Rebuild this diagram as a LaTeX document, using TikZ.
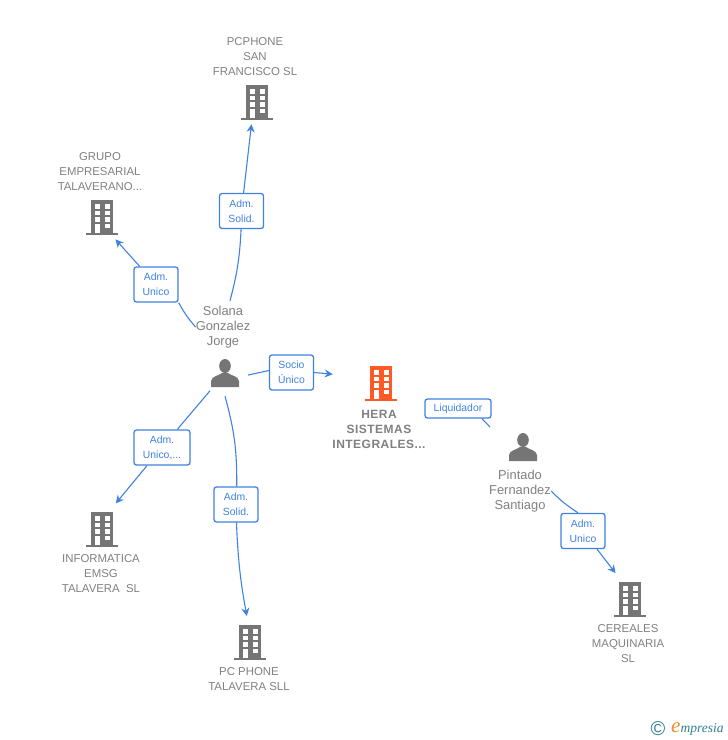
\documentclass[tikz,border=0pt]{standalone}
\usepackage{fontspec}
\usetikzlibrary{arrows.meta}
\setmainfont{Liberation Sans}
\newfontfamily\logofont{Liberation Serif}
\definecolor{bldggray}{HTML}{757575}
\definecolor{heraorange}{HTML}{FF5A26}
\definecolor{textgray}{HTML}{808080}
\definecolor{linkblue}{HTML}{3F82E0}
\definecolor{logoteal}{HTML}{2F7F93}
\definecolor{logoorange}{HTML}{F08A24}
\tikzset{
  pics/bldg/.style = {code = {
    \fill[#1] (-11,-17) rectangle (11,16);
    \fill[#1] (-16,15.5) rectangle (16,17.5);
    \foreach \row in {-13,-6.5,0} {
      \fill[white] (-7.5,\row) rectangle (-2.5,\row+4.5);
      \fill[white] (2.5,\row) rectangle (7.5,\row+4.5);
    }
    \fill[white] (-7.5,6.5) rectangle (-2.5,15.5);
    \fill[white] (2.5,6.5) rectangle (7.5,11);
  }},
  pics/person/.style = {code = {
    \fill[bldggray] (0,-7) ellipse (5.8 and 7);
    \fill[bldggray] (-14,14) -- (-14,8) .. controls (-13,3) and (-7,3) .. (-3,0)
      -- (3,0) .. controls (7,3) and (13,3) .. (14,8) -- (14,14) -- cycle;
  }},
}
\begin{document}
\begin{tikzpicture}[
  x = 1pt, y = -1pt,
  iconspot/.style = {circle, minimum size = 52pt, inner sep = 0pt},
  manspot/.style = {circle, minimum size = 46pt, inner sep = 0pt},
  firm/.style = {align = center, inner sep = 0pt, text = textgray,
    font = \fontsize{11.4}{15}\selectfont},
  herafirm/.style = {firm, font = \fontsize{12}{15}\selectfont\bfseries\addfontfeatures{LetterSpace=4}},
  man/.style = {firm, font = \fontsize{12.9}{15}\selectfont},
  tag/.style = {draw = linkblue, fill = white, rounded corners = 2.5pt, line width = 1.3pt,
    align = center, inner sep = 0pt, text = linkblue, minimum width = 44pt, minimum height = 35pt,
    font = \fontsize{10.4}{15}\selectfont},
  wire/.style = {draw = linkblue, line width = 1.1pt},
  arrowwire/.style = {wire, -{Stealth[length = 8pt, width = 8pt]}},
  ]
  \useasboundingbox (0,0) rectangle (728,740);

  \node[iconspot] (pcphone) at (257,102) {};
  \node[iconspot] (grupo) at (102,217) {};
  \node[iconspot] (informatica) at (102,529) {};
  \node[iconspot] (pcsll) at (250,642) {};
  \node[iconspot] (hera) at (381,383) {};
  \node[iconspot] (cereales) at (630,599) {};
  \node[manspot] (solana) at (225,373) {};
  \node[manspot] (pintado) at (523,447) {};

  \pic at (pcphone) {bldg = bldggray};
  \pic at (grupo) {bldg = bldggray};
  \pic at (informatica) {bldg = bldggray};
  \pic at (pcsll) {bldg = bldggray};
  \pic at (hera) {bldg = heraorange};
  \pic at (cereales) {bldg = bldggray};
  \pic at (solana) {person};
  \pic at (pintado) {person};

  \node[firm] (pcphonetxt) at (255,57) {PCPHONE\\SAN\\FRANCISCO SL};
  \node[firm] (grupotxt) at (100,172) {GRUPO\\EMPRESARIAL\\TALAVERANO...};
  \node[firm] (informaticatxt) at (101,574) {INFORMATICA\\EMSG\\TALAVERA\ \ SL};
  \node[firm] (pcslltxt) at (249,679.5) {PC PHONE\\TALAVERA SLL};
  \node[herafirm] (heratxt) at (379,429) {HERA\\SISTEMAS\\INTEGRALES...};
  \node[firm] (cerealestxt) at (628,644) {CEREALES\\MAQUINARIA\\SL};
  \node[man] (solanatxt) at (223,327) {Solana\\Gonzalez\\Jorge};
  \node[man] (pintadotxt) at (520,491) {Pintado\\Fernandez\\Santiago};

  \node[tag] (tagsolida) at (241.5,211) {Adm.\\Solid.};
  \node[tag] (tagunicoa) at (156,284.5) {Adm.\\Unico};
  \node[tag] (tagsocio) at (291.5,372.5) {Socio\\Único};
  \node[tag, minimum width = 56pt] (tagunicob) at (162,447.5) {Adm.\\Unico,...};
  \node[tag] (tagsolidb) at (236,504.5) {Adm.\\Solid.};
  \node[tag, minimum width = 66pt, minimum height = 19pt] (tagliq) at (458,408.5) {Liquidador};
  \node[tag] (tagunicoc) at (583,531) {Adm.\\Unico};
  \coordinate (liqend) at (490,427);

  \draw[wire] (solanatxt.north) ++(7,-5) coordinate (solanatop) to[bend right = 6] (tagsolida);
  \draw[arrowwire, shorten > = -3.4pt] (tagsolida) -- (pcphone.-103);
  \draw[wire] (solanatxt.west) to[bend left = 6] (tagunicoa.south east);
  \draw[arrowwire] (tagunicoa) -- (grupo.-59);
  \draw[wire] (solana.-5) -- (tagsocio.175);
  \draw[arrowwire, shorten > = 23pt] (tagsocio.east) -- (hera.165);
  \draw[wire] (solana) -- (tagunicob);
  \draw[arrowwire, shorten > = 3pt] (tagunicob) -- (informatica.63);
  \draw[wire] (solana.-90) to[bend left = 8] (tagsolidb);
  \draw[arrowwire] (tagsolidb) to[bend right = 4] (pcsll.97);
  \draw[wire] (tagliq.-23) -- (liqend);
  \draw[wire] (pintadotxt.east) to[bend right = 6] (tagunicoc.105);
  \draw[arrowwire, shorten > = 3.5pt] (tagunicoc) -- (cereales.118);

  \node[text = logoteal, inner sep = 0pt, font = \fontsize{20}{20}\selectfont] (logomark) at (658,729) {\textcopyright};
  \node[anchor = west, inner sep = 0pt, text = logoteal,
    font = \logofont\fontsize{13.5}{13}\selectfont\itshape] (logotxt) at (671,729)
    {\textcolor{logoorange}{\fontsize{21}{18}\selectfont e}mpresia};
\end{tikzpicture}
\end{document}
